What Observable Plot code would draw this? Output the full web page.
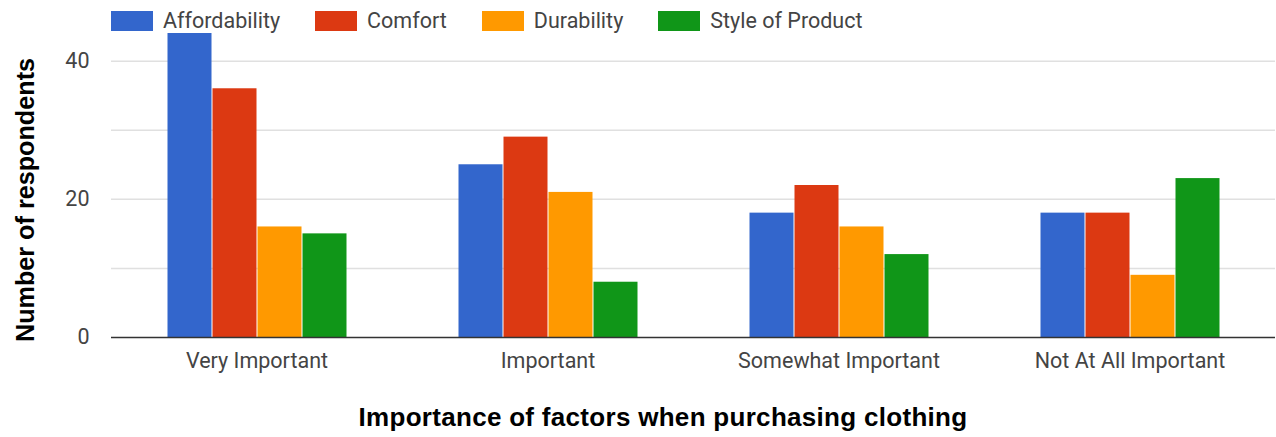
<!DOCTYPE html>
<html>
<head>
<meta charset="utf-8">
<script src="https://cdn.jsdelivr.net/npm/d3@7"></script>
<script src="https://cdn.jsdelivr.net/npm/@observablehq/plot@0.6"></script>
<style>
  html, body { margin: 0; padding: 0; background: #fff; }
  #chart { position: relative; width: 1276px; height: 437px; overflow: hidden; }
  .lg-swatches {
    box-sizing: border-box;
    height: 33px;
    min-height: 0 !important;
    margin: 0 !important;
    padding: 11px 0 0 111px;
    display: flex;
    align-items: flex-start !important;
    font-family: Roboto, sans-serif !important;
    font-size: 21.5px !important;
    color: #444;
  }
  .lg-swatch { margin-right: 35px !important; line-height: 20px; }
  .lg-swatch > svg { margin-right: 10px !important; }
  #ytitle {
    position: absolute; left: 25px; top: 200px;
    transform: translate(-50%, -50%) rotate(-90deg);
    white-space: nowrap;
    font: bold 25.2px "Liberation Sans", Arial, sans-serif; color: #000;
  }
  #xtitle {
    position: absolute; left: 663px; top: 417px;
    transform: translate(-50%, -50%);
    white-space: nowrap;
    letter-spacing: 0.3px;
    font: bold 26px "Liberation Sans", Arial, sans-serif; color: #000;
  }
</style>
</head>
<body>
<div id="chart"></div>
<script>
// Survey: how important each factor is when buying clothes
const categories = ["Very Important", "Important", "Somewhat Important", "Not At All Important"];
const series = ["Affordability", "Comfort", "Durability", "Style of Product"];
const affordability = [44, 25, 18, 18];
const comfort = [36, 29, 22, 18];
const durability = [16, 21, 16, 9];
const styleOfProduct = [15, 8, 12, 23];
const seriesColors = ["#3366cc", "#dc3912", "#ff9900", "#109618"];
const gridTicks = [0, 10, 20, 30, 40];
const labelTicks = [0, 20, 40];

const valuesBySeries = [affordability, comfort, durability, styleOfProduct];
const rows = [];
categories.forEach((c, i) => {
  series.forEach((s, j) => rows.push({category: c, series: s, value: valuesBySeries[j][i]}));
});

const chart = Plot.plot({
  width: 1276,
  height: 352,
  marginTop: 0,
  marginRight: 0,
  marginBottom: 48,
  marginLeft: 110,
  style: {fontFamily: "Roboto, sans-serif", fontSize: "21.5px", color: "#444", background: "#fff"},
  fx: {domain: categories, padding: 0, axis: "bottom", label: null, tickSize: 0, tickPadding: 15},
  x: {domain: series, paddingInner: 0, paddingOuter: 1.22, axis: null},
  y: {domain: [0, 44], ticks: labelTicks, tickSize: 0, tickPadding: 22, label: null},
  color: {domain: series, range: seriesColors},
  marks: [
    Plot.ruleY(gridTicks.filter(d => d > 0), {stroke: "#e0e0e0", strokeWidth: 1.5}),
    Plot.barY(rows, {fx: "category", x: "series", y: "value", fill: "series", insetLeft: 0.5, insetRight: 0.5}),
    Plot.ruleY([0], {stroke: "#333", strokeWidth: 1.5})
  ]
});

const root = document.getElementById("chart");
root.appendChild(chart.legend("color", {legend: "swatches", swatchWidth: 42, swatchHeight: 20, className: "lg"}));
root.appendChild(chart);

const yTitle = document.createElement("div");
yTitle.id = "ytitle";
yTitle.textContent = "Number of respondents";
root.appendChild(yTitle);

const xTitle = document.createElement("div");
xTitle.id = "xtitle";
xTitle.textContent = "Importance of factors when purchasing clothing";
root.appendChild(xTitle);
</script>
</body>
</html>
